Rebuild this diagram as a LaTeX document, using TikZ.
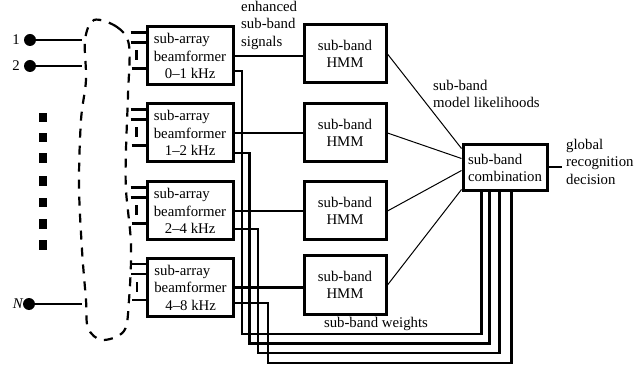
\documentclass[tikz,border=0pt]{standalone}
\usepackage{fontspec}
\setmainfont{Liberation Serif}
\usetikzlibrary{calc}
\tikzset{
  bfbox/.style={draw,line width=3pt,minimum width=86pt,minimum height=58pt,inner sep=0pt,align=left,font=\fontsize{14.8}{17.5}\selectfont},
  hmmbox/.style={draw,line width=3pt,minimum width=82pt,minimum height=58pt,inner sep=0pt,align=center,font=\fontsize{14.8}{17.5}\selectfont},
  combbox/.style={draw,line width=3pt,minimum width=84pt,minimum height=46pt,inner sep=0pt,align=left,font=\fontsize{14.8}{17.5}\selectfont},
  lbl/.style={inner sep=0pt,align=left,font=\fontsize{14.8}{17.5}\selectfont},
  conn/.style={line width=2.6pt,line join=miter},
  thin/.style={line width=1pt},
  stub/.style={line width=2.5pt},
  dotn/.style={circle,fill,inner sep=0pt,minimum size=12pt},
  sq/.style={fill,inner sep=0pt,minimum width=8pt,minimum height=9.5pt},
  encl/.style={line width=2.2pt,dash pattern=on 9pt off 8pt},
}
\begin{document}
\begin{tikzpicture}[x=1pt,y=-1pt]
\useasboundingbox (0,0) rectangle (634,371);

% beamformers
\node[bfbox] (bf1) at (190,56) {sub-array\\beamformer\\\hspace{0.75em}0--1 kHz};
\node[bfbox] (bf2) at (190,133) {sub-array\\beamformer\\\hspace{0.75em}1--2 kHz};
\node[bfbox] (bf3) at (190,211) {sub-array\\beamformer\\\hspace{0.75em}2--4 kHz};
\node[bfbox] (bf4) at (190.5,287.5) {sub-array\\beamformer\\\hspace{0.75em}4--8 kHz};

% HMMs
\node[hmmbox] (h1) at (345,54) {sub-band\\HMM};
\node[hmmbox] (h2) at (345,133) {sub-band\\HMM};
\node[hmmbox] (h3) at (345,211) {sub-band\\HMM};
\node[hmmbox] (h4) at (345,285) {sub-band\\HMM};

% combination
\node[combbox] (comb) at (505,168) {sub-band\\combination};

% labels
\node[lbl,anchor=north west] (enh) at (241,1) {enhanced\\sub-band\\signals};
\node[lbl,anchor=north west] (lik) at (433,80) {sub-band\\model likelihoods};
\node[lbl,anchor=north west] (glob) at (566,139) {global\\recognition\\decision};
\node[lbl] (wts) at (376,324) {sub-band weights};

% inputs
\node[dotn] (d1) at (30,40) {};
\node[dotn] (d2) at (30,66) {};
\node[dotn] (dN) at (29,304) {};
\node[lbl,anchor=east] (l1) at (20,40) {1};
\node[lbl,anchor=east] (l2) at (20,66) {2};
\node[lbl,anchor=east] (lN) at (23,304) {\itshape N};
\coordinate (e1) at (82,40);
\coordinate (e2) at (82,66);
\coordinate (eN) at (82,304);
\draw[conn] (d1.center) -- (e1);
\draw[conn] (d2.center) -- (e2);
\draw[conn] (dN.center) -- (eN);

% vertical ellipsis squares
\foreach \yy [count=\i] in {117.5,137.5,158,181,202.5,224,245}
  \node[sq] (s\i) at (42.5,\yy) {};

% enclosing dashed curve
\draw[encl] plot[smooth cycle,tension=0.55] coordinates {
  (94,20) (117,27) (129,45) (128,95) (126,150) (126,190) (131,245)
  (129,300) (124,331) (102,340) (88,328) (86,300) (82,250) (79,185)
  (81,120) (86,80) (85,40)};

% stubs into beamformers
\foreach \b in {bf1,bf2,bf3,bf4} {
  \draw[stub] ($(\b.north west)+(-15,7)$) -- ($(\b.north west)+(0,7)$);
  \draw[stub] ($(\b.north west)+(-15,17)$) -- ($(\b.north west)+(0,17)$);
  \draw[stub] ($(\b.north west)+(-14,43)$) -- ($(\b.north west)+(0,43)$);
  \draw[stub] ($(\b.north west)+(-9,25)$) -- ($(\b.north west)+(-9,35)$);
}

% signals to HMMs
\foreach \i in {1,2,3,4}
  \draw[conn] (bf\i.east) -- (bf\i.east -| h\i.west);

% HMM to combination
\draw[thin] (h1.east) -- ($(comb.north west)+(0,5)$);
\draw[thin] (h2.east) -- ($(comb.north west)+(0,15)$);
\draw[thin] (h3.east) -- ($(comb.north west)+(0,27)$);
\draw[thin] (h4.east) -- ($(comb.south west)+(0,-3)$);

% output
\coordinate (out) at (562,167);
\draw[conn] (comb.east |- out) -- (out);

% sub-band weights
\draw[conn] ([yshift=-15pt]bf1.east) -| (242,334) -| ($(comb.south west)+(20,0)$);
\draw[conn] ([yshift=-20pt]bf2.east) -| (249.5,343.5) -| ($(comb.south west)+(28,0)$);
\draw[conn] ([yshift=-18pt]bf3.east) -| (258,353) -| ($(comb.south west)+(38,0)$);
\draw[conn] ([yshift=-15.5pt]bf4.east) -| (268,363) -| ($(comb.south west)+(50,0)$);
\end{tikzpicture}
\end{document}
